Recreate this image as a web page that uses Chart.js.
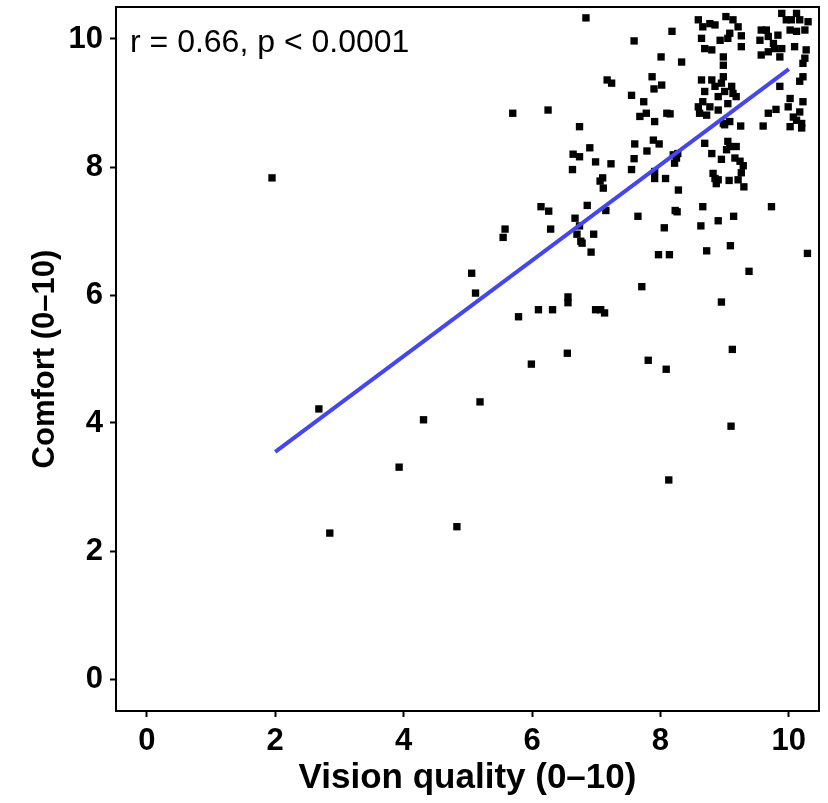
<!DOCTYPE html>
<html>
<head>
<meta charset="utf-8">
<script src="https://cdn.jsdelivr.net/npm/chart.js@4.4.0/dist/chart.umd.min.js"></script>
<style>
  html, body { margin: 0; padding: 0; background: #ffffff; }
  canvas { display: block; }
</style>
</head>
<body>
<canvas id="chart" width="828" height="803"></canvas>
<script>
// Per-respondent scores (jittered), vision quality vs. comfort
const visionQuality = [
  1.95, 2.68, 2.85, 3.93, 4.31, 4.83, 5.06, 5.12, 5.19, 5.58, 5.55, 5.70, 5.79, 5.99, 6.14, 6.26, 6.29, 6.25, 6.10, 6.32,
  6.56, 6.56, 6.55, 6.67, 6.70, 6.76, 6.78, 6.74, 6.86, 7.15, 6.96, 6.92, 6.99, 7.07, 7.13, 7.65, 8.06, 7.97, 8.14, 8.23,
  8.26, 8.66, 8.63, 8.90, 9.14, 8.72, 9.09, 9.73, 9.38, 10.29, 7.71, 8.95, 7.81, 8.09, 9.12, 9.10, 8.13,
  6.84, 7.59, 8.18, 8.01, 8.33, 7.87, 8.02, 7.90, 7.17, 7.24, 7.55, 7.74,
  6.74, 6.64, 6.74, 6.90, 6.63, 6.99, 7.23, 7.68, 7.78, 7.91, 8.10, 8.15, 7.60, 7.79, 7.89, 7.98, 7.59, 7.55, 7.06, 7.10,
  7.11, 8.20, 8.25, 8.22, 8.27, 7.91, 7.91, 8.08, 8.28,
  8.59, 8.66, 8.77, 8.85, 9.02, 9.13, 9.21, 9.26, 8.64, 8.69, 8.80, 8.93, 9.05, 9.08, 9.26, 8.98, 8.98, 9.57, 9.65, 9.68,
  9.55, 9.57, 9.68, 9.76, 9.78, 9.89, 9.83, 9.86, 9.89, 9.96, 10.04, 10.12, 10.17, 10.30, 10.02, 10.12, 10.25, 10.09, 10.27, 10.25,
  10.22, 8.64, 8.69, 8.80, 8.85, 8.95, 8.98, 9.00, 9.11, 9.13, 8.90, 9.18, 8.66, 9.86, 10.17, 10.22, 10.02, 10.22,
  8.59, 8.77, 8.72, 8.61, 8.90, 9.05, 8.98, 9.08, 9.00, 9.25, 9.68, 9.80, 9.60, 9.99, 10.17, 10.07, 10.12, 10.20, 10.02, 10.20,
  8.69, 8.80, 8.95, 9.05, 9.08, 9.03, 9.18, 9.16, 9.29, 9.26, 8.82, 8.85, 8.90, 8.87, 9.07, 9.30, 9.21, 9.24
];
const comfort = [
  7.83, 4.22, 2.28, 3.31, 4.05, 2.38, 6.34, 6.03, 4.33, 7.03, 6.90, 8.84, 5.66, 4.92, 7.38, 7.31, 7.03, 8.89, 5.77, 5.77,
  5.97, 5.88, 5.09, 7.20, 6.95, 6.84, 6.81, 7.08, 7.40, 7.32, 6.95, 6.67, 5.77, 5.77, 5.72, 7.23, 7.05, 6.63, 6.63, 7.32,
  7.30, 7.38, 7.08, 7.16, 7.23, 6.69, 6.77, 7.38, 6.37, 6.65, 6.13, 5.89, 4.98, 4.84, 5.15, 3.95, 3.11,
  10.33, 9.97, 10.12, 9.72, 9.64, 9.41, 9.28, 9.22, 9.36, 9.31, 9.12, 9.02,
  8.63, 8.20, 8.16, 8.30, 7.96, 8.08, 8.05, 8.79, 8.84, 8.71, 8.84, 8.83, 8.36, 8.25, 8.42, 8.36, 8.13, 7.96, 7.78, 7.83,
  7.67, 8.19, 8.14, 8.06, 8.21, 7.93, 7.82, 7.82, 7.64,
  10.30, 10.19, 10.24, 10.22, 10.35, 10.30, 10.19, 10.05, 10.01, 9.85, 9.83, 9.98, 10.01, 10.09, 9.88, 9.72, 9.59, 10.14, 10.14, 10.04,
  9.98, 9.75, 9.80, 9.93, 9.85, 9.85, 10.06, 9.72, 10.40, 10.30, 10.30, 10.40, 10.30, 10.27, 10.14, 10.12, 10.14, 9.88, 9.83, 9.70,
  9.62, 9.36, 9.18, 9.36, 9.26, 9.31, 9.41, 9.18, 9.26, 9.15, 9.10, 9.10, 9.02, 9.26, 9.34, 9.41, 9.07, 9.02,
  8.94, 8.94, 8.81, 8.84, 8.89, 8.99, 8.68, 8.71, 8.66, 8.64, 8.84, 8.90, 8.64, 8.94, 8.86, 8.78, 8.73, 8.68, 8.63, 8.61,
  8.37, 8.21, 8.12, 8.40, 8.32, 8.27, 8.32, 8.14, 8.02, 7.91, 7.90, 7.82, 7.80, 7.74, 7.79, 7.69, 7.80, 8.09
];

// Least-squares fit line end points
const fitX = [2, 10];
const fitY = [3.55, 9.53];

const xTicks = [0, 2, 4, 6, 8, 10];
const yTicks = [0, 2, 4, 6, 8, 10];
const xTitle = 'Vision quality (0\u201310)';
const yTitle = 'Comfort (0\u201310)';
const statLabel = 'r = 0.66, p < 0.0001';

const FONT = '"Liberation Sans", Arial, Helvetica, sans-serif';

const scatter = visionQuality.map((v, i) => ({ x: v, y: comfort[i] }));
const fitLine = fitX.map((v, i) => ({ x: v, y: fitY[i] }));

// Panel frame and the correlation label
const panelDecor = {
  id: 'panelDecor',
  afterDraw(chart) {
    const { ctx, chartArea: a } = chart;
    ctx.save();
    ctx.strokeStyle = '#000';
    ctx.lineWidth = 2;
    ctx.strokeRect(a.left, a.top, a.right - a.left, a.bottom - a.top);
    ctx.fillStyle = '#000';
    ctx.font = '32px ' + FONT;
    ctx.textAlign = 'left';
    ctx.textBaseline = 'alphabetic';
    ctx.fillText(statLabel, a.left + 14, a.top + 45);
    ctx.restore();
  }
};

new Chart(document.getElementById('chart'), {
  type: 'scatter',
  data: {
    datasets: [
      {
        label: 'fit',
        type: 'line',
        data: fitLine,
        borderColor: '#4646ee',
        borderWidth: 4,
        pointRadius: 0,
        fill: false,
        tension: 0,
        order: 0
      },
      {
        label: 'respondents',
        data: scatter,
        pointStyle: 'rect',
        pointRadius: 5.2,
        backgroundColor: '#000',
        borderColor: '#000',
        borderWidth: 0,
        order: 1
      }
    ]
  },
  options: {
    responsive: false,
    animation: false,
    devicePixelRatio: 1,
    layout: { padding: { top: 7, right: 9, left: 0, bottom: 0 } },
    plugins: { legend: { display: false }, tooltip: { enabled: false } },
    scales: {
      x: {
        type: 'linear',
        min: -0.48,
        max: 10.47,
        afterBuildTicks: s => { s.ticks = xTicks.map(v => ({ value: v })); },
        afterFit: s => { s.height = 92; s.paddingLeft = 0; s.paddingRight = 0; },
        grid: { display: true, drawOnChartArea: false, drawTicks: true, tickLength: 6, color: '#000', tickWidth: 2 },
        border: { display: false },
        ticks: { color: '#000', padding: 6, maxRotation: 0, font: { family: FONT, size: 31, weight: 'bold' } },
        title: { display: true, text: xTitle, color: '#000', padding: { top: 0, bottom: 4 }, font: { family: FONT, size: 35, weight: 'bold' } }
      },
      y: {
        type: 'linear',
        min: -0.5,
        max: 10.5,
        afterBuildTicks: s => { s.ticks = yTicks.map(v => ({ value: v })); },
        afterFit: s => { s.width = 116; s.paddingTop = 0; s.paddingBottom = 0; },
        grid: { display: true, drawOnChartArea: false, drawTicks: true, tickLength: 6, color: '#000', tickWidth: 2 },
        border: { display: false },
        ticks: { color: '#000', padding: 7, font: { family: FONT, size: 31, weight: 'bold' } },
        title: { display: true, text: yTitle, color: '#000', padding: { top: 27, bottom: 0 }, font: { family: FONT, size: 31, weight: 'bold' } }
      }
    }
  },
  plugins: [panelDecor]
});
</script>
</body>
</html>
